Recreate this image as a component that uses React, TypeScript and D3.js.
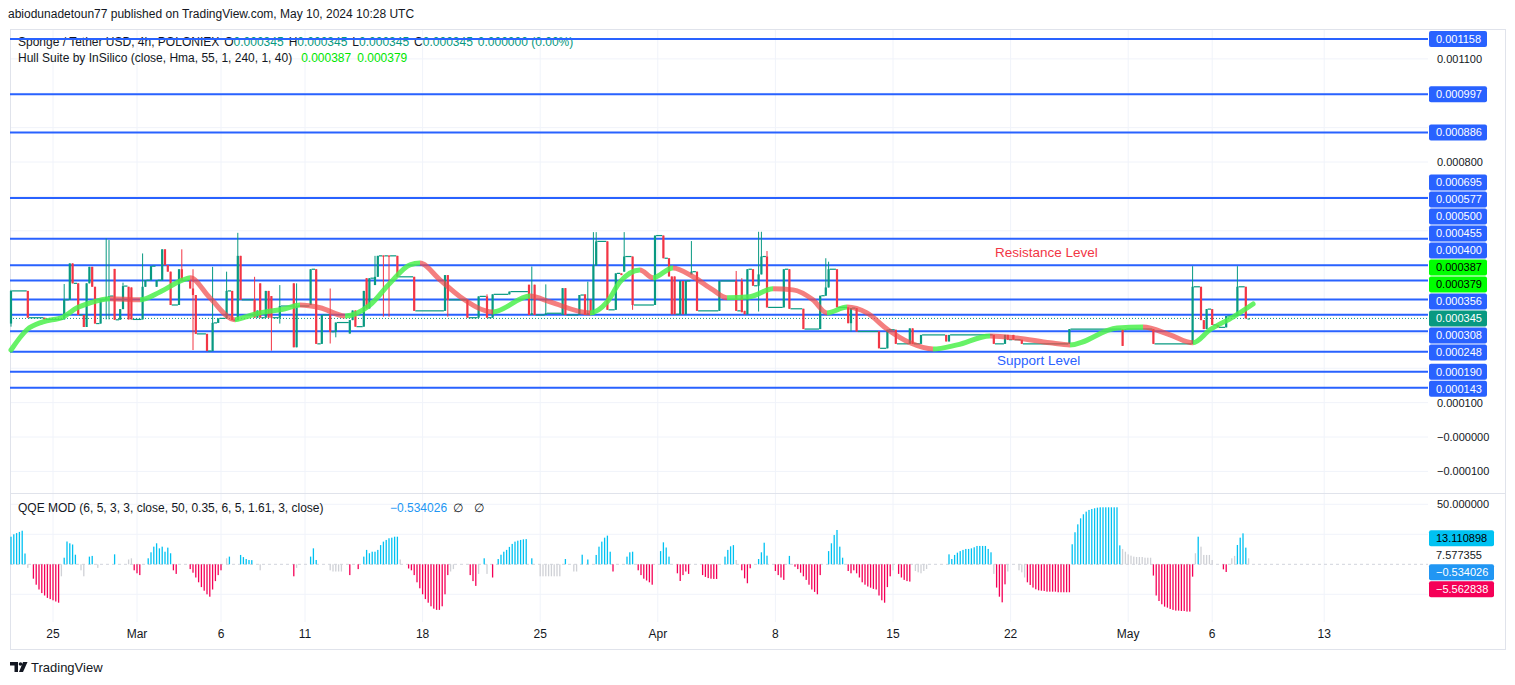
import * as d3 from "d3";

const WIDTH = 1515;
const HEIGHT = 685;
const FONT = "'Liberation Sans', Arial, sans-serif";
const UP = "#089981";
const DOWN = "#f23645";
const LEVEL = "#2962ff";
const GRID = "#f0f3fa";
const BORDER = "#e0e3eb";
const TEXT = "#131722";

// all prices below are in units of 0.000001 USDT
const levels = [1158, 997, 886, 695, 577, 500, 455, 400, 356, 308, 248, 190, 143];
const lastPrice = 345;
const hullLast = [387, 379];

const priceTicks = [1100, 1000, 900, 800, 700, 600, 500, 400, 300, 200, 100, 0, -100];
const priceTickLabels = [
  "0.001100", "0.001000", "0.000900", "0.000800", "0.000700", "0.000600", "0.000500",
  "0.000400", "0.000300", "0.000200", "0.000100", "\u22120.000000", "\u22120.000100",
];

const dateBars = [15, 45, 75, 105, 147, 189, 231, 273, 315, 357, 399, 429, 469];
const dateLabels = ["25", "Mar", "6", "11", "18", "25", "Apr", "8", "15", "22", "May", "6", "13"];

// [bar, open, high, low, close]; bars not listed are flat at the previous close
const candles: number[][] = [
  [0, 330, 428, 321, 425], [6, 425, 425, 347, 347], [12, 347, 347, 342, 342],
  [19, 342, 445, 342, 399], [21, 399, 505, 399, 505], [22, 505, 505, 447, 447],
  [24, 447, 447, 355, 355], [26, 355, 355, 320, 320], [27, 320, 447, 320, 447],
  [28, 447, 495, 447, 495], [29, 495, 495, 437, 437], [30, 437, 437, 330, 330],
  [32, 330, 399, 330, 399], [34, 399, 578, 342, 407], [35, 407, 573, 342, 410],
  [37, 489, 489, 341, 341], [39, 341, 372, 341, 372], [40, 372, 449, 372, 439],
  [42, 437, 437, 342, 342], [43, 435, 435, 342, 342], [47, 342, 534, 342, 437],
  [48, 437, 456, 437, 456], [50, 456, 497, 456, 497], [52, 437, 456, 437, 456],
  [54, 456, 546, 456, 546], [55, 546, 546, 500, 500], [56, 500, 500, 481, 481],
  [57, 481, 481, 384, 384], [60, 384, 488, 384, 488], [61, 488, 546, 455, 455],
  [64, 455, 455, 432, 432], [65, 432, 488, 253, 413], [66, 413, 413, 300, 300],
  [70, 300, 300, 250, 250], [72, 250, 495, 250, 332], [74, 332, 345, 332, 345],
  [77, 345, 481, 345, 425], [79, 425, 425, 340, 340], [81, 340, 594, 340, 527],
  [82, 527, 527, 399, 399], [87, 399, 466, 347, 347], [88, 347, 368, 347, 368],
  [89, 447, 447, 347, 347], [91, 347, 425, 347, 425], [92, 425, 425, 347, 347],
  [93, 410, 410, 251, 347], [96, 347, 442, 330, 381], [101, 447, 447, 261, 261],
  [102, 261, 447, 261, 381], [107, 384, 488, 384, 488], [109, 488, 488, 271, 271],
  [111, 271, 355, 271, 355], [114, 355, 432, 272, 306], [116, 306, 333, 290, 333],
  [121, 301, 340, 301, 340], [122, 340, 368, 340, 368], [123, 368, 368, 321, 321],
  [126, 321, 425, 321, 425], [127, 462, 462, 374, 374], [128, 374, 462, 374, 462],
  [130, 442, 527, 442, 466], [131, 466, 527, 466, 527], [133, 528, 528, 350, 527],
  [135, 528, 528, 350, 527], [138, 527, 527, 466, 466], [144, 466, 466, 367, 367],
  [155, 367, 471, 367, 471], [156, 471, 471, 350, 399], [163, 399, 399, 347, 347],
  [167, 347, 409, 347, 409], [170, 409, 415, 347, 347], [172, 347, 415, 347, 415],
  [178, 415, 423, 415, 423], [185, 443, 443, 355, 355], [186, 355, 496, 355, 360],
  [187, 443, 443, 355, 355], [191, 355, 444, 355, 360], [197, 355, 433, 355, 433],
  [198, 433, 433, 355, 355], [203, 355, 413, 355, 413], [205, 415, 415, 355, 355],
  [206, 355, 452, 355, 360], [207, 399, 399, 355, 355], [208, 355, 596, 355, 499],
  [209, 499, 596, 499, 569], [213, 569, 569, 370, 370], [216, 370, 476, 370, 476],
  [218, 476, 476, 471, 471], [219, 481, 596, 481, 525], [222, 525, 525, 370, 384],
  [230, 384, 586, 384, 586], [233, 586, 586, 520, 520], [235, 520, 520, 467, 467],
  [236, 467, 467, 357, 357], [237, 467, 467, 357, 357], [239, 357, 454, 357, 454],
  [240, 454, 454, 357, 357], [241, 357, 454, 357, 454], [243, 473, 570, 473, 481],
  [245, 481, 481, 367, 367], [253, 367, 454, 367, 454], [259, 454, 483, 367, 367],
  [261, 454, 462, 363, 363], [262, 367, 367, 357, 357], [263, 357, 488, 357, 488],
  [265, 488, 488, 440, 440], [267, 440, 597, 365, 473], [268, 473, 597, 473, 525],
  [270, 525, 541, 377, 377], [276, 377, 488, 377, 488], [278, 488, 488, 373, 373],
  [283, 373, 373, 314, 314], [289, 314, 411, 314, 411], [291, 411, 520, 411, 435],
  [292, 435, 510, 435, 488], [295, 488, 488, 377, 377], [299, 377, 377, 331, 331],
  [300, 331, 375, 307, 375], [302, 375, 375, 307, 307], [310, 307, 307, 258, 258],
  [313, 258, 312, 258, 312], [316, 312, 312, 271, 271], [321, 271, 316, 271, 316],
  [322, 316, 316, 271, 271], [325, 271, 297, 271, 297], [334, 297, 297, 278, 278],
  [335, 278, 297, 278, 297], [351, 297, 297, 271, 271], [355, 271, 297, 271, 297],
  [356, 297, 297, 283, 283], [358, 297, 297, 283, 283], [361, 283, 283, 271, 271],
  [378, 271, 314, 271, 314], [397, 314, 314, 265, 265], [398, 314, 314, 314, 314],
  [408, 314, 314, 271, 271], [422, 271, 497, 271, 437], [425, 437, 437, 340, 340],
  [426, 340, 340, 314, 314], [427, 314, 372, 314, 372], [429, 372, 372, 326, 326],
  [431, 326, 326, 319, 319], [434, 319, 352, 319, 352], [438, 352, 497, 352, 437],
  [441, 437, 437, 345, 345], [442, 345, 345, 345, 345],
];

// Hull Suite line, read at its turning points: [bar, price]
const hull: number[][] = [
  [0, 253], [5.7, 312], [11.4, 335], [18.6, 349], [23.6, 376], [28.2, 390], [35.4, 402],
  [46, 399], [53.2, 422], [61.4, 457], [64, 463], [71, 405], [80, 341], [83.6, 349],
  [88.9, 361], [97.9, 373], [103.2, 384], [110.4, 376], [119.3, 352], [128.2, 384],
  [135.4, 448], [142.5, 501], [146, 506], [153.2, 457], [160.4, 408], [172.1, 364],
  [185.4, 410], [192.5, 393], [206.8, 361], [212.9, 393], [217.5, 451], [224.6, 486],
  [229.3, 463], [236.4, 492], [243.6, 466], [250.7, 428], [255.7, 405], [263.9, 408],
  [272.1, 431], [279.3, 428], [286.4, 399], [291.4, 361], [298.6, 378], [305.7, 361],
  [313.2, 312], [321.1, 274], [329.3, 256], [337.9, 268], [349.6, 294], [359.3, 288],
  [371.1, 274], [378.2, 268], [395, 317], [404.3, 320], [413.9, 297], [422.1, 274],
  [428.2, 312], [436.4, 349], [443.6, 387],
];

// QQE MOD histogram: [first bar, tone (0 up, 1 down, 2 neutral), values]
const qqeRuns: [number, number, number[]][] = [
  [0, 0, [23, 25, 26, 27, 28, 9]],
  [6, 2, [-3]],
  [8, 1, [-12, -17, -21, -24, -26, -28, -29, -30, -31, -32]],
  [18, 2, [-10]],
  [19, 0, [5.5, 19, 17.5, 16.5, 8]],
  [25, 2, [-5, -10]],
  [28, 0, [6.4, 7]],
  [31, 2, [-3]],
  [37, 0, [8.3]],
  [42, 2, [4, 5]],
  [44, 1, [-5, -7.5, -9]],
  [49, 0, [5, 10, 14.7, 17.5, 13.3, 14.7, 10.5, 13.9, 9.2]],
  [58, 1, [-5, -8]],
  [64, 1, [-4, -7, -11, -15, -19, -22, -25, -27, -21, -14, -9, -5]],
  [77, 2, [5]],
  [78, 0, [6.4]],
  [82, 0, [7.8, 6, 4.4, 3.6, 3.5]],
  [89, 2, [-5]],
  [101, 1, [-10]],
  [102, 2, [-3]],
  [107, 0, [6.4, 13.3, 3.6]],
  [114, 2, [-5, -6, -6, -6, -6]],
  [121, 1, [-9]],
  [124, 1, [-4]],
  [126, 0, [6.4, 12, 9.2, 10.5, 10.5, 12, 16, 18.9, 20.3, 21.7, 22.2, 23, 23]],
  [139, 2, [4]],
  [142, 1, [-3.5, -5, -9, -15, -20, -25, -29, -32, -35, -37, -38, -38, -35, -25, -9]],
  [157, 2, [-6, -4]],
  [164, 1, [-9, -14, -18]],
  [167, 2, [-8]],
  [169, 0, [5]],
  [170, 2, [-8]],
  [172, 1, [-11]],
  [174, 0, [4.4, 8, 10.5, 12, 14.5, 17, 18.9, 19.7, 20.3, 20.8, 21]],
  [186, 0, [5]],
  [189, 2, [-10, -10, -10, -10, -10, -10, -10, -10]],
  [198, 0, [4.4]],
  [201, 2, [-6, -6]],
  [204, 0, [8]],
  [206, 0, [4]],
  [209, 0, [7.8, 14.7, 18.9, 22.2, 23.9, 10.5]],
  [215, 1, [-6]],
  [220, 0, [6.4, 10, 10.5]],
  [224, 1, [-5, -9, -12, -13.5, -15, -17]],
  [232, 0, [11, 18.3, 14, 6.4]],
  [238, 1, [-7.5, -13.9, -9, -6, -8]],
  [247, 1, [-9, -10.5, -11.5, -12, -12.2, -12.2]],
  [255, 0, [6.4, 12, 15, 16]],
  [259, 2, [3.6]],
  [261, 1, [-5, -11.7, -15.8, -3.3]],
  [267, 0, [4.4, 10, 18, 7.2]],
  [273, 1, [-5.6, -9, -11, -13]],
  [278, 0, [7]],
  [280, 1, [-2, -4, -7, -10, -13, -17, -21, -23, -25, -9]],
  [292, 0, [11, 17.5, 24.4, 28.6, 14.7, 5.5]],
  [299, 1, [-5.6, -7.5, -5, -7.5, -11, -15, -17, -18.5, -19.5, -20.5, -21, -26, -30, -32, -19, -10]],
  [315, 2, [-5]],
  [317, 1, [-8, -11, -13, -14, -14.4]],
  [323, 2, [-5.6, -6.7, -7.5, -5.6, -3.9]],
  [335, 0, [8.3, 4.4, 7.8, 9.7, 11, 12, 12.8, 12.8, 13.3, 14.2, 15.3, 15.3, 15.3, 15.3, 12.8, 10]],
  [351, 2, [-8]],
  [352, 1, [-19.4, -27, -31.7, -16.7]],
  [356, 2, [-6]],
  [360, 2, [-5, -6.7, -11]],
  [363, 1, [-15, -17.2, -19.4, -20.8, -21.7, -22, -22.2, -22.8, -22.8, -22.8, -22.8, -23.3, -23.3, -23.3, -23.3, -23.3]],
  [379, 0, [16.7, 26.7, 33.3, 38.3, 41.7, 43.9, 45.3, 46.1, 46.7, 47.2, 47.5, 47.5, 47.5, 47.5, 47.5, 47.5, 47.5, 15.8]],
  [397, 2, [12.8, 10.5, 8.3, 7.2, 6.4, 6.1, 6.1, 6.1, 5.5, 5.5, 5.5]],
  [408, 1, [-9.4, -26, -30.6, -33.3, -35.3, -36.1, -37.2, -38, -38.6, -38.6, -38.9, -38.9, -39.4, -39.4, -10.3]],
  [423, 2, [9.2]],
  [424, 0, [23]],
  [425, 2, [14.7, 7.8, 7.8, 7.8, 3.6]],
  [433, 1, [-4.2, -6.4]],
  [436, 2, [5, 7]],
  [438, 0, [16.1, 22.2, 25.8, 13.9]],
  [442, 2, [5]],
];
const qqeColors = ["#00c2f2", "#f50057", "#cfd1d6"];

const qqeTicks = [50, 25, 0, -25];
const qqeTickLabels = ["50.000000", "25.000000", "0.000000", "\u221225.000000"];
const qqeLast = [13.110898, 7.577355, -0.534026, -5.562838];

// push labels apart around an anchored one, like the price scale does
function stackLabels(targets: number[], anchor: number, h: number) {
  const out = targets.slice();
  for (let i = anchor - 1; i >= 0; i--) out[i] = Math.min(targets[i], out[i + 1] - h);
  for (let i = anchor + 1; i < out.length; i++) out[i] = Math.max(targets[i], out[i - 1] + h);
  return out;
}

const fmt = (v: number) => v.toFixed(6).replace("-", "\u2212");

export default function App() {
  const x = d3.scaleLinear().domain([0, 505]).range([11, 1425]);
  const yP = d3.scaleLinear().domain([0, 800]).range([437, 162]);
  const yQ = d3.scaleLinear().domain([0, 50]).range([564.3, 504.3]);

  const plotL = 10;
  const plotR = 1428;

  // hull line, coloured by direction between readings
  const hullLine = d3
    .line<number[]>()
    .x((d) => x(d[0]))
    .y((d) => yP(d[1]))
    .curve(d3.curveMonotoneX);
  const hx0 = x(hull[0][0]);
  const hx1 = x(hull[hull.length - 1][0]);
  const stops: { off: number; col: string; op: number }[] = [];
  for (let k = 0; k < hull.length - 1; k++) {
    const rising = hull[k + 1][1] >= hull[k][1];
    const col = rising ? "#4cf04c" : "#f04848";
    const op = rising ? 0.85 : 0.7;
    stops.push({ off: (x(hull[k][0]) - hx0) / (hx1 - hx0), col, op });
    stops.push({ off: (x(hull[k + 1][0]) - hx0) / (hx1 - hx0), col, op });
  }

  // price scale labels
  const priceLabels = [
    ...levels.map((p) => ({ p, bg: LEVEL, fg: "#ffffff", anchor: false })),
    ...hullLast.map((p) => ({ p, bg: "#00ff00", fg: "#000000", anchor: false })),
    { p: lastPrice, bg: UP, fg: "#ffffff", anchor: true },
  ].sort((a, b) => b.p - a.p);
  const priceLabelY = stackLabels(
    priceLabels.map((d) => yP(d.p)),
    priceLabels.findIndex((d) => d.anchor),
    17
  );

  const qqeStyles = [
    { bg: "#00c2f2", fg: "#000000" },
    { bg: "none", fg: TEXT },
    { bg: "#2196f3", fg: "#ffffff" },
    { bg: "#f50057", fg: "#ffffff" },
  ];
  const qqeLabelY = stackLabels(qqeLast.map((v) => yQ(v)), 1, 17);

  // scale ticks that sit under a value label are not printed
  const freeTick = (y: number, taken: number[]) => taken.every((t) => Math.abs(t - y) >= 13);

  const qqeBars: { bar: number; v: number; tone: number }[] = [];
  qqeRuns.forEach(([start, tone, vals]) =>
    vals.forEach((v, j) => qqeBars.push({ bar: start + j, v, tone }))
  );

  const bodyW = 2.2;

  return (
    <svg
      width={WIDTH}
      height={HEIGHT}
      style={{ position: "absolute", left: 0, top: 0, background: "#ffffff" }}
      fontFamily={FONT}
    >
      <defs>
        <linearGradient id="hullGrad" gradientUnits="userSpaceOnUse" x1={hx0} x2={hx1} y1={0} y2={0}>
          {stops.map((s, i) => (
            <stop key={i} offset={s.off} stopColor={s.col} stopOpacity={s.op} />
          ))}
        </linearGradient>
      </defs>
      <rect x={0} y={0} width={WIDTH} height={HEIGHT} fill="#ffffff" />

      <text x={8} y={18} fontSize={12} fill={TEXT}>
        abiodunadetoun77 published on TradingView.com, May 10, 2024 10:28 UTC
      </text>

      {/* grid */}
      {priceTicks.map((t) => (
        <line key={"pg" + t} x1={plotL} x2={plotR} y1={yP(t)} y2={yP(t)} stroke={GRID} />
      ))}
      {qqeTicks
        .filter((t) => t !== 0)
        .map((t) => (
          <line key={"qg" + t} x1={plotL} x2={plotR} y1={yQ(t)} y2={yQ(t)} stroke={GRID} />
        ))}
      {dateBars.map((b) => (
        <line key={"vg" + b} x1={x(b)} x2={x(b)} y1={30} y2={622} stroke={GRID} />
      ))}

      {/* frame */}
      <rect x={10.5} y={29.5} width={1495} height={620} fill="none" stroke={BORDER} />
      <line x1={10} x2={1505} y1={493.5} y2={493.5} stroke={BORDER} />

      {/* legends */}
      <g fontSize={12}>
        <text x={18} y={46} fill={TEXT}>
          Sponge / Tether USD, 4h, POLONIEX
          <tspan dx={5}>O</tspan>
          <tspan fill={UP}>0.000345</tspan>
          <tspan dx={5}>H</tspan>
          <tspan fill={UP}>0.000345</tspan>
          <tspan dx={5}>L</tspan>
          <tspan fill={UP}>0.000345</tspan>
          <tspan dx={5}>C</tspan>
          <tspan fill={UP}>0.000345</tspan>
          <tspan dx={5} fill={UP}>0.000000 (0.00%)</tspan>
        </text>
        <text x={18} y={62} fill={TEXT}>
          Hull Suite by InSilico (close, Hma, 55, 1, 240, 1, 40)
          <tspan dx={9} fill="#00e600">{fmt(hullLast[0] / 1e6)}</tspan>
          <tspan dx={6} fill="#00e600">{fmt(hullLast[1] / 1e6)}</tspan>
        </text>
        <text x={18} y={512} fill={TEXT}>
          QQE MOD (6, 5, 3, 3, close, 50, 0.35, 6, 5, 1.61, 3, close)
        </text>
        <text x={390} y={512} fill="#2196f3">{fmt(qqeLast[2])}</text>
        <text x={453} y={512} fill={TEXT}>∅</text>
        <text x={474} y={512} fill={TEXT}>∅</text>
      </g>

      {/* horizontal levels */}
      {levels.map((p) => (
        <line key={"lv" + p} x1={plotL} x2={plotR} y1={yP(p)} y2={yP(p)} stroke={LEVEL} strokeWidth={2} />
      ))}
      <line
        x1={plotL}
        x2={plotR}
        y1={yP(lastPrice)}
        y2={yP(lastPrice)}
        stroke={UP}
        strokeDasharray="1 2"
      />

      {/* flat stretches between traded bars */}
      {candles.slice(0, -1).map((c, k) => {
        const next = candles[k + 1];
        if (next[0] - c[0] < 2) return null;
        return (
          <line
            key={"fl" + k}
            x1={x(c[0]) + bodyW / 2}
            x2={x(next[0]) - bodyW / 2}
            y1={yP(c[4])}
            y2={yP(c[4])}
            stroke={UP}
            strokeWidth={1.2}
          />
        );
      })}

      {/* candles */}
      {candles.map(([bar, o, h, l, c]) => {
        const col = c >= o ? UP : DOWN;
        const top = yP(Math.max(o, c));
        const bh = Math.max(1.2, Math.abs(yP(o) - yP(c)));
        return (
          <g key={"c" + bar}>
            <line x1={x(bar)} x2={x(bar)} y1={yP(h)} y2={yP(l)} stroke={col} strokeWidth={1} />
            <rect x={x(bar) - bodyW / 2} y={top} width={bodyW} height={bh} fill={col} />
          </g>
        );
      })}

      {/* hull suite */}
      <path d={hullLine(hull) || ""} fill="none" stroke="url(#hullGrad)" strokeWidth={5} strokeLinecap="round" />

      <text x={995} y={257} fontSize={13.5} fill={DOWN}>Resistance Level</text>
      <text x={997} y={365} fontSize={13.5} fill={LEVEL}>Support Level</text>

      {/* QQE pane */}
      <line x1={plotL} x2={plotR} y1={yQ(0)} y2={yQ(0)} stroke="#d1d4dc" strokeDasharray="3 3" />
      {qqeBars.map((d) => (
        <rect
          key={"q" + d.bar}
          x={x(d.bar) - 0.65}
          y={Math.min(yQ(d.v), yQ(0))}
          width={1.3}
          height={Math.abs(yQ(d.v) - yQ(0))}
          fill={qqeColors[d.tone]}
        />
      ))}

      {/* price axis */}
      <g fontSize={11}>
        {priceTicks.map((t, i) =>
          freeTick(yP(t), priceLabelY) ? (
            <text key={"pt" + t} x={1437} y={yP(t) + 4} fill={TEXT}>
              {priceTickLabels[i]}
            </text>
          ) : null
        )}
        {qqeTicks.map((t, i) =>
          freeTick(yQ(t), qqeLabelY) ? (
            <text key={"qt" + t} x={1437} y={yQ(t) + 4} fill={TEXT}>
              {qqeTickLabels[i]}
            </text>
          ) : null
        )}
        {priceLabels.map((d, i) => (
          <g key={"pl" + d.p}>
            <rect x={1429} y={priceLabelY[i] - 8} width={58} height={16} rx={2} fill={d.bg} />
            <text x={1436} y={priceLabelY[i] + 4} fill={d.fg}>
              {fmt(d.p / 1e6)}
            </text>
          </g>
        ))}
        {qqeLast.map((v, i) => (
          <g key={"ql" + i}>
            {qqeStyles[i].bg !== "none" && (
              <rect x={1429} y={qqeLabelY[i] - 8} width={65} height={16} rx={2} fill={qqeStyles[i].bg} />
            )}
            <text x={1436} y={qqeLabelY[i] + 4} fill={qqeStyles[i].fg}>
              {fmt(v)}
            </text>
          </g>
        ))}
      </g>

      {/* time axis */}
      <g fontSize={12} fill={TEXT} textAnchor="middle">
        {dateBars.map((b, i) => (
          <text key={"d" + b} x={x(b)} y={638}>
            {dateLabels[i]}
          </text>
        ))}
      </g>

      {/* footer */}
      <g fill={TEXT}>
        <path d="M10 662 h8 v10 h-3.5 v-6.5 h-4.5 z" />
        <circle cx={20.5} cy={664} r={1.8} />
        <path d="M23 662 h4.5 l-4.5 10 h-4 z" />
        <text x={31} y={672} fontSize={13}>TradingView</text>
      </g>
    </svg>
  );
}
